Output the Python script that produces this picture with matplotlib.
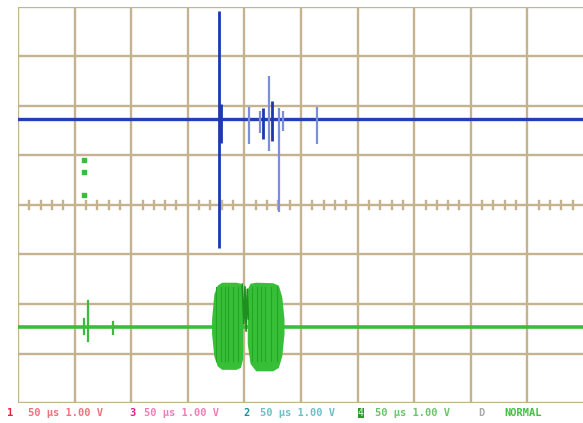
import numpy as np
import matplotlib.pyplot as plt

# screen: 10 x 8 divisions, one division = 50 us / 1.00 V
n_xdiv = 10
n_ydiv = 8

# channel 2 (blue) - baseline level and spikes (t in div, volts in div)
blue_level = 1.74
blue_spike_t = [3.55, 3.58, 4.08, 4.28, 4.33, 4.43, 4.49, 4.61, 4.68, 5.28]
blue_spike_lo = [-0.87, 1.25, 1.23, 1.45, 1.33, 1.09, 1.30, -0.14, 1.50, 1.23]
blue_spike_hi = [3.92, 2.05, 1.98, 1.90, 1.95, 2.60, 2.10, 1.95, 1.90, 1.98]
blue_spike_dark = [True, True, False, False, True, False, True, False, False, False]

# channel 4 (green) - baseline and glitches
green_level = -2.46
green_glitch_t = [1.17, 1.24, 1.68]
green_glitch_lo = [-2.60, -2.75, -2.60]
green_glitch_hi = [-2.30, -1.94, -2.36]

# green burst envelope (two lobes)
lobe1_t = [3.42, 3.46, 3.52, 3.60, 3.85, 3.93, 3.97]
lobe1_top = [-2.30, -1.80, -1.62, -1.56, -1.56, -1.58, -1.70]
lobe1_bot = [-2.60, -3.05, -3.25, -3.32, -3.32, -3.28, -3.10]
lobe2_t = [4.05, 4.10, 4.20, 4.50, 4.60, 4.66, 4.70]
lobe2_top = [-1.70, -1.58, -1.56, -1.57, -1.62, -1.85, -2.30]
lobe2_bot = [-2.80, -3.20, -3.35, -3.35, -3.28, -3.05, -2.60]
# zig-zag inside the gap between the lobes
gap_t = [3.96, 3.99, 4.01, 4.03, 4.05, 4.07]
gap_v = [-1.60, -2.40, -1.65, -2.55, -1.70, -2.30]
# darker streaks inside the burst
streak_t = [3.50, 3.58, 3.66, 3.71, 3.80, 3.88, 4.14, 4.22, 4.30, 4.36, 4.47, 4.57]

# stray green dots
dot_t = [1.17, 1.17, 1.17]
dot_v = [0.91, 0.67, 0.20]

W, H = 583, 423
fig = plt.figure(figsize=(W / 100, H / 100), dpi=100)
fig.patch.set_facecolor('white')
ax = fig.add_axes([18 / W, 20 / H, 566 / W, 396 / H])
ax.set_xlim(0, n_xdiv)
ax.set_ylim(-n_ydiv / 2, n_ydiv / 2)
ax.axis('off')

grid_c = '#c4b38e'
for i in range(n_xdiv + 1):
    ax.axvline(i, color=grid_c, lw=1.7, zorder=1)
for j in range(n_ydiv + 1):
    ax.axhline(j - n_ydiv / 2, color=grid_c, lw=1.7, zorder=1)
# minor ticks on center horizontal axis
for i in range(n_xdiv):
    for k in range(1, 5):
        ax.plot([i + k * 0.2] * 2, [-0.08, 0.08], color=grid_c, lw=1.7, zorder=1)

# blue trace
ax.axhline(blue_level, color='#2240b4', lw=2.4, zorder=3)
for t, lo, hi, dark in zip(blue_spike_t, blue_spike_lo, blue_spike_hi, blue_spike_dark):
    ax.plot([t, t], [lo, hi], color='#1e38b0' if dark else '#7d8ed8',
            lw=2.0 if dark else 1.6, zorder=4, solid_capstyle='butt')

# green trace
ax.axhline(green_level, color='#3cbc3c', lw=2.6, zorder=3)
for t, lo, hi in zip(green_glitch_t, green_glitch_lo, green_glitch_hi):
    ax.plot([t, t], [lo, hi], color='#3cbc3c', lw=1.6, zorder=4)
ax.fill_between(lobe1_t, lobe1_bot, lobe1_top, color='#38bf38', lw=0, zorder=4)
ax.fill_between(lobe2_t, lobe2_bot, lobe2_top, color='#38bf38', lw=0, zorder=4)
ax.plot(gap_t, gap_v, color='#1f8f1f', lw=1.2, zorder=5)
for t in streak_t:
    ax.plot([t, t], [-3.15, -1.65], color='#24a524', lw=0.8, zorder=5)
ax.scatter(dot_t, dot_v, s=9, marker='s', color='#3cbc3c', zorder=4)

# status line
ty = 1 - 413 / H
mono = 'DejaVu Sans Mono'
items = [
    (7, '1', '#e02838'), (28, '50 µs 1.00 V', '#f0707c'),
    (129, '3', '#e0208a'), (144, '50 µs 1.00 V', '#f07cb8'),
    (243, '2', '#1f8f9c'), (260, '50 µs 1.00 V', '#6cc0c8'),
    (375, '50 µs 1.00 V', '#6cc46c'),
    (478, 'D', '#a8a8a8'), (504, 'NORMAL', '#40c040'),
]
for x, s, c in items:
    fig.text(x / W, ty, s, color=c, fontsize=7.5, family=mono, va='center',
             ha='left', fontweight='bold')
fig.text(358 / W, ty, '4', color='#e8f8e8', fontsize=7, family=mono, va='center',
         ha='left', bbox=dict(boxstyle='square,pad=0.05', fc='#2a9a2a', ec='none'))

fig.savefig('out.png', dpi=100)
